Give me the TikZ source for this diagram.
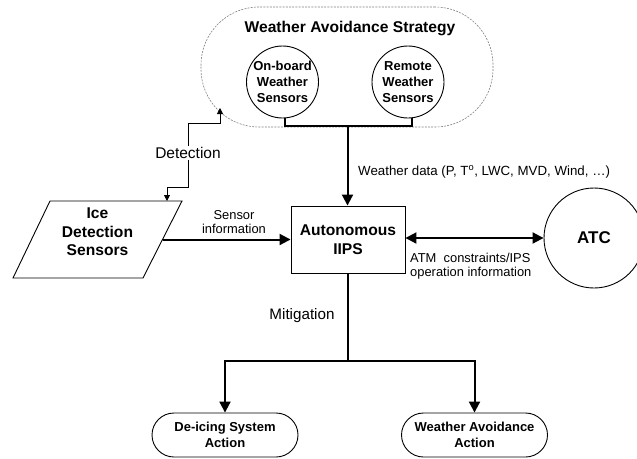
\documentclass[tikz,border=0pt]{standalone}
\usepackage{fontspec}
\setmainfont{Liberation Sans}
\usetikzlibrary{arrows.meta}
\begin{document}
\begin{tikzpicture}[x=1pt,y=-1pt,
  bigb/.style={font=\fontsize{15.6}{18.5}\selectfont\bfseries, align=center},
  smb/.style={font=\fontsize{13}{16}\selectfont\bfseries, align=center},
  lab/.style={font=\fontsize{12.9}{14}\selectfont, align=left, inner sep=0pt},
  biglab/.style={font=\fontsize{15.5}{18}\selectfont, inner sep=1pt},
  sens/.style={circle, draw, line width=0.9pt, minimum size=72pt, inner sep=0pt, smb, font=\fontsize{13}{16}\selectfont\bfseries},
  act/.style={draw, line width=0.9pt, rounded corners=22pt, minimum width=146pt, minimum height=44pt, inner sep=0pt, smb},
  thick2/.style={line width=2pt},
  tip/.style={-{Triangle[length=11pt,width=11pt]}},
  tips/.style={{Triangle[length=11pt,width=11pt]}-{Triangle[length=11pt,width=11pt]}},
  small/.style={{Triangle[length=6pt,width=6pt]}-{Triangle[length=6pt,width=6pt]}, line width=0.8pt}
]
\useasboundingbox (0,0) rectangle (637,458);
\clip (0,0) rectangle (637,458);

% Weather avoidance strategy region
\node[draw=gray, dash pattern=on 2pt off 1.2pt, line width=0.6pt, rounded corners=58pt,
      minimum width=292pt, minimum height=120pt, inner sep=0pt] (strat) at (347,67) {};
\node[bigb] (title) at (350,28) {Weather Avoidance Strategy};
\node[sens] (ob) at (282.5,82) {On-board\\Weather\\Sensors};
\node[sens] (rm) at (408,82) {Remote\\Weather\\Sensors};
\coordinate (j) at (347.5,126);

% Autonomous IIPS
\node[draw, line width=0.9pt, minimum width=114pt, minimum height=67pt, inner sep=0pt, bigb] (box) at (348,239.5) {Autonomous\\IIPS};

% Ice detection parallelogram
\coordinate (p1) at (50,201);
\coordinate (p2) at (182,201);
\coordinate (p3) at (143,278);
\coordinate (p4) at (13,278);
\draw[line width=0.9pt] (p1) -- (p2) -- (p3) -- (p4) -- cycle;
\node[bigb] (ice) at (97.5,232) {Ice\\Detection\\Sensors};
\coordinate (iceE) at (162.5,239.5);

% ATC
\node[circle, draw, line width=0.9pt, minimum size=100pt, inner sep=0pt,
      font=\fontsize{17}{20}\selectfont\bfseries] (atc) at (594,238) {ATC};

% Actions
\node[act] (deice) at (225,435) {De-icing System\\Action};
\node[act] (wavoid) at (474.5,435) {Weather Avoidance\\Action};

% sensors to junction
\draw[thick2] (ob.south -| 285,0) |- (j) -| (rm.south -| 412,0);
% weather data
\draw[thick2, tip] (j) -- (j |- box.north);
\node[lab, anchor=west, font=\fontsize{13.3}{14}\selectfont] (wd) at (358,172) {Weather data (P, T\textsuperscript{o}, LWC, MVD, Wind, …)};

% sensor information
\draw[thick2, tip] (iceE) -- (box.west |- iceE);
\node[lab, align=center] (si) at (234,222) {Sensor\\information};

% ATM
\draw[thick2, tips] (box.east |- atc.west) -- (atc.west);
\node[lab, anchor=west] (atm) at (410,266) {ATM\ \ constraints/IPS\\operation information};

% Detection
\coordinate (dA) at (167,201);
\coordinate (dB) at (220,108);
\draw[small] (dA) -- (167,187) -- (188,187) -- (188,123) -- (220,123) -- (dB);
\node[biglab, fill=white] (det) at (188,153) {Detection};

% Mitigation
\coordinate (m) at (348,361);
\draw[thick2] (box.south) -- (m);
\draw[thick2, tip] (m) -| (deice.north);
\draw[thick2, tip] (m) -| (wavoid.north);
\node[biglab, font=\fontsize{15.2}{18}\selectfont] (mit) at (302,316) {Mitigation};
\end{tikzpicture}
\end{document}
